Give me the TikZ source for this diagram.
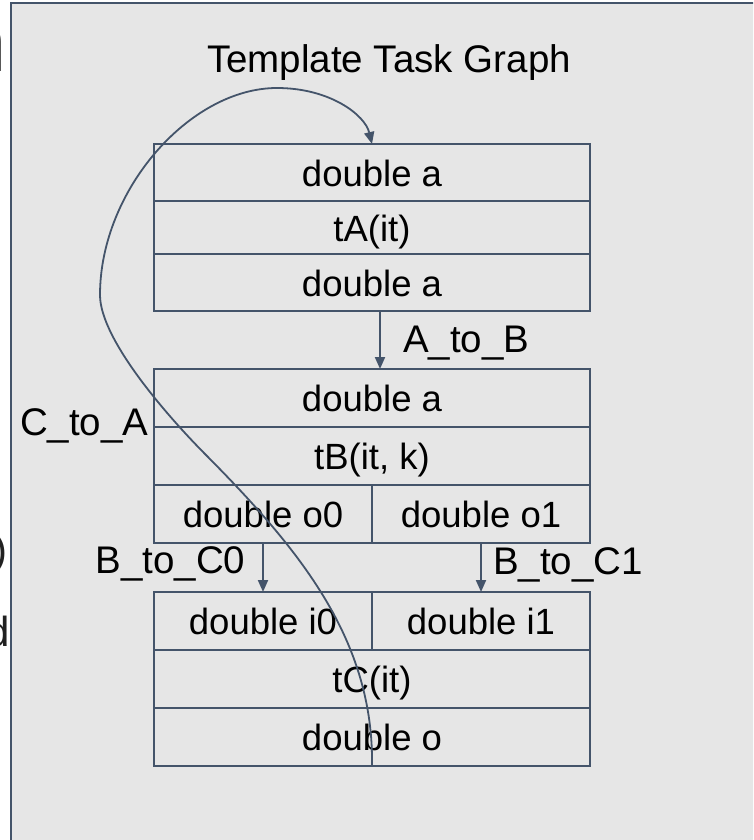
\documentclass[tikz,border=0pt]{standalone}
\usepackage{fontspec}
\setmainfont{Liberation Sans}
\usetikzlibrary{arrows.meta}

\definecolor{edge}{HTML}{44546A}
\definecolor{panelfill}{HTML}{E6E6E6}
\definecolor{glyphink}{HTML}{212121}

\begin{document}
\begin{tikzpicture}[x=1pt,y=-1pt,
  cell/.style 2 args={draw=edge, line width=2pt, anchor=north west,
    inner sep=0pt, outer sep=0pt, minimum width=#1, minimum height=#2,
    text height=27pt, text depth=0pt, font=\fontsize{36.5}{40}\selectfont},
  lbl/.style={inner sep=0pt, outer sep=0pt, font=\fontsize{38.5}{42}\selectfont},
  arr/.style={draw=edge, line width=2pt, -{Triangle[length=12pt,width=10pt]}},
  glyph/.style={inner sep=0pt, outer sep=0pt, text=glyphink}
]
\useasboundingbox (0,0) rectangle (753,840);
\clip (0,0) rectangle (753,840);

% fragments of text cut by the left edge
\begin{scope}
  \clip (0,0) rectangle (10,840);
  \node[glyph, anchor=base east, font=\bfseries\fontsize{87}{90}\selectfont] (g1) at (6.5,72) {n};
  \node[glyph, anchor=base east, font=\fontsize{42}{46}\selectfont] (g2) at (7.7,564.5) {)};
  \node[glyph, anchor=base east, font=\fontsize{42}{46}\selectfont] (g3) at (10.1,646.7) {d};
\end{scope}

% background panel
\draw[draw=edge, line width=2pt, fill=panelfill] (11,3) rectangle (800,900);

% title
\node[lbl, anchor=base] (title) at (389,73) {Template Task Graph};

% task A
\node[cell={436pt}{57pt}] (a1) at (154,144) {double a};
\node[cell={436pt}{53pt}] (a2) at (154,201) {tA(it)};
\node[cell={436pt}{57pt}] (a3) at (154,254) {double a};

% task B
\node[cell={436pt}{58pt}] (b1) at (154,369) {double a};
\node[cell={436pt}{58pt}] (b2) at (154,427) {tB(it, k)};
\node[cell={218pt}{58pt}] (b3l) at (154,485) {double o0};
\node[cell={218pt}{58pt}] (b3r) at (372,485) {double o1};

% task C
\node[cell={218pt}{58pt}] (c1l) at (154,592) {double i0};
\node[cell={218pt}{58pt}] (c1r) at (372,592) {double i1};
\node[cell={436pt}{58pt}] (c2) at (154,650) {tC(it)};
\node[cell={436pt}{58pt}] (c3) at (154,708) {double o};

% edge labels
\node[lbl, anchor=base west] (lAB) at (403,352) {A\_to\_B};
\node[lbl, anchor=base west] (lCA) at (20,435) {C\_to\_A};
\node[lbl, anchor=base west] (lBC0) at (95.5,573) {B\_to\_C0};
\node[lbl, anchor=base west] (lBC1) at (493,574) {B\_to\_C1};

% straight edges
\draw[arr] ([xshift=8pt]a3.south) -- ([xshift=8pt]b1.north);
\draw[arr] (b3l.south) -- (c1l.north);
\draw[arr] (b3r.south) -- (c1r.north);

% back edge from C to A, looping round the left of task A
\coordinate (bend) at (207,456);
\coordinate (left) at (100,295);
\coordinate (top) at (277,88);
\draw[arr, line width=1.8pt] (c3.south)
  .. controls (374,640) and (300,550) .. (bend)
  .. controls (170,419) and (100,340) .. (left)
  .. controls (100,190) and (190,88) .. (top)
  .. controls (330,88) and (365,115) .. (a1.north);
\end{tikzpicture}
\end{document}
